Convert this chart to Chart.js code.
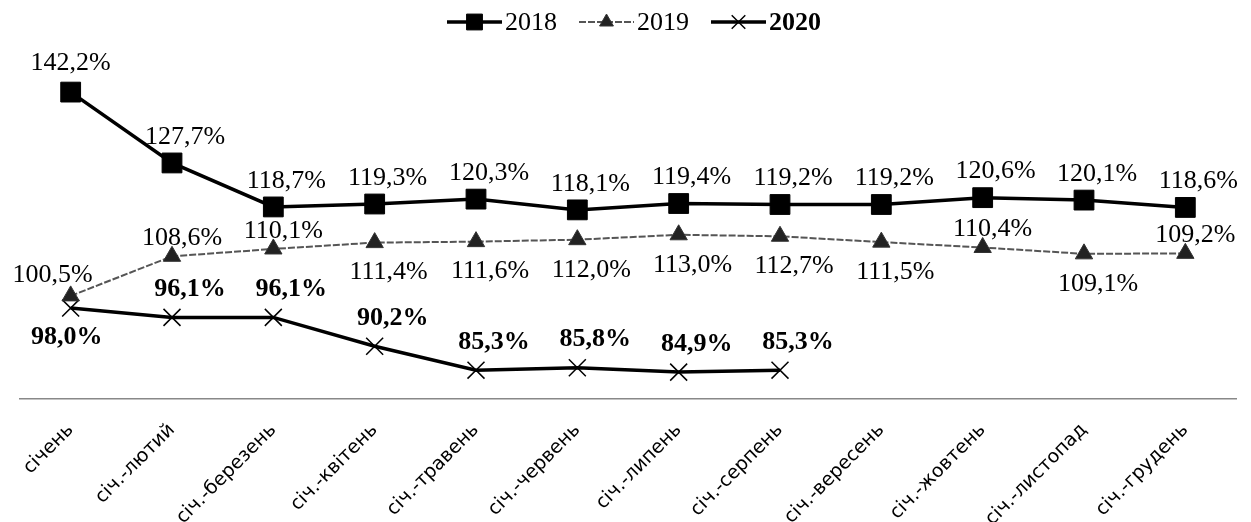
<!DOCTYPE html>
<html>
<head>
<meta charset="utf-8">
<script src="https://cdn.jsdelivr.net/npm/chart.js@4"></script>
<style>
  html, body { margin: 0; padding: 0; background: #fff; }
  #wrap { width: 1251px; height: 522px; }
</style>
</head>
<body>
<div id="wrap"><canvas id="chart" width="1251" height="522"></canvas></div>
<script>
const months = ['січень', 'січ.-лютий', 'січ.-березень', 'січ.-квітень', 'січ.-травень', 'січ.-червень',
  'січ.-липень', 'січ.-серпень', 'січ.-вересень', 'січ.-жовтень', 'січ.-листопад', 'січ.-грудень'];
const values2018 = [142.2, 127.7, 118.7, 119.3, 120.3, 118.1, 119.4, 119.2, 119.2, 120.6, 120.1, 118.6];
const values2019 = [100.5, 108.6, 110.1, 111.4, 111.6, 112.0, 113.0, 112.7, 111.5, 110.4, 109.1, 109.2];
const values2020 = [98.0, 96.1, 96.1, 90.2, 85.3, 85.8, 84.9, 85.3];

// 2019 labels that sit under the point
const below2019 = [3, 4, 5, 6, 7, 8, 10];

const serif = '"Liberation Serif", "Times New Roman", serif';

function fmt(v) {
  return v.toFixed(1).replace('.', ',') + '%';
}

// value labels next to each point
const valueLabels = {
  id: 'valueLabels',
  afterDatasetsDraw(chart) {
    const ctx = chart.ctx;
    ctx.save();
    ctx.fillStyle = '#000';
    ctx.textAlign = 'center';
    ctx.textBaseline = 'middle';
    chart.data.datasets.forEach((ds, di) => {
      const meta = chart.getDatasetMeta(di);
      ctx.font = (ds.labelBold ? 'bold ' : '') + '26px ' + serif;
      meta.data.forEach((pt, i) => {
        let dx, dy;
        if (di === 0) {
          dx = i === 0 ? 0 : 13;
          dy = i === 0 ? -29 : -26;
        } else if (di === 1) {
          if (below2019.includes(i)) { dx = 14; dy = 30; }
          else { dx = 10; dy = -18; }
          if (i === 0) { dx = -18; dy = -21; }
        } else {
          dx = 18; dy = -28;
          if (i === 0) { dx = -4; dy = 29; }
        }
        ctx.fillText(fmt(ds.data[i]), pt.x + dx, pt.y + dy);
      });
    });
    ctx.restore();
  }
};

// legend across the top: line + marker + text
const topLegend = {
  id: 'topLegend',
  afterDraw(chart) {
    const ctx = chart.ctx;
    const items = chart.data.datasets;
    const lineW = 55, gapText = 3, gapItem = 22;
    ctx.save();
    const widths = items.map(ds => {
      ctx.font = (ds.labelBold ? 'bold ' : '') + '26px ' + serif;
      return lineW + gapText + ctx.measureText(ds.label).width;
    });
    const total = widths.reduce((a, b) => a + b, 0) + gapItem * (items.length - 1);
    let x = 634 - total / 2;
    const y = 22;
    items.forEach((ds, i) => {
      ctx.strokeStyle = ds.borderColor;
      ctx.lineWidth = ds.borderWidth;
      ctx.setLineDash(ds.borderDash || []);
      ctx.beginPath();
      ctx.moveTo(x, y);
      ctx.lineTo(x + lineW, y);
      ctx.stroke();
      ctx.setLineDash([]);
      ctx.fillStyle = ds.pointBackgroundColor;
      ctx.strokeStyle = ds.pointBorderColor;
      ctx.lineWidth = ds.pointBorderWidth;
      Chart.helpers.drawPoint(ctx, {
        pointStyle: ds.pointStyle,
        radius: ds.pointRadius * 0.8,
        borderWidth: ds.pointBorderWidth
      }, x + lineW / 2, y);
      ctx.fillStyle = '#000';
      ctx.font = (ds.labelBold ? 'bold ' : '') + '26px ' + serif;
      ctx.textAlign = 'left';
      ctx.textBaseline = 'middle';
      ctx.fillText(ds.label, x + lineW + gapText, y + 1);
      x += widths[i] + gapItem;
    });
    ctx.restore();
  }
};

new Chart(document.getElementById('chart'), {
  type: 'line',
  data: {
    labels: months,
    datasets: [
      {
        label: '2018',
        data: values2018,
        borderColor: '#000',
        borderWidth: 3.5,
        pointStyle: 'rect',
        pointRadius: 14,
        pointBackgroundColor: '#000',
        pointBorderColor: '#000',
        pointBorderWidth: 1,
        clip: false
      },
      {
        label: '2019',
        data: values2019,
        borderColor: '#555',
        borderWidth: 2,
        borderDash: [7, 2],
        pointStyle: 'triangle',
        pointRadius: 10,
        pointBackgroundColor: '#222',
        pointBorderColor: '#333',
        pointBorderWidth: 1,
        clip: false
      },
      {
        label: '2020',
        data: values2020,
        labelBold: true,
        borderColor: '#000',
        borderWidth: 3.5,
        pointStyle: 'crossRot',
        pointRadius: 12,
        pointBackgroundColor: '#000',
        pointBorderColor: '#000',
        pointBorderWidth: 1.5,
        clip: false
      }
    ]
  },
  options: {
    responsive: false,
    animation: false,
    layout: { padding: { top: 53, left: 20, right: 14, bottom: 0 } },
    plugins: {
      legend: { display: false },
      tooltip: { enabled: false }
    },
    scales: {
      x: {
        offset: true,
        grid: { display: false },
        border: { display: true, color: '#888', width: 1.5, dash: [10, 2] },
        afterFit(scale) { scale.height = 123; },
        ticks: {
          color: '#000',
          font: { family: '"DejaVu Sans", sans-serif', size: 19 },
          minRotation: 45,
          maxRotation: 45,
          padding: 12
        }
      },
      y: {
        display: false,
        min: 79.4,
        max: 150.2
      }
    }
  },
  plugins: [valueLabels, topLegend]
});
</script>
</body>
</html>
